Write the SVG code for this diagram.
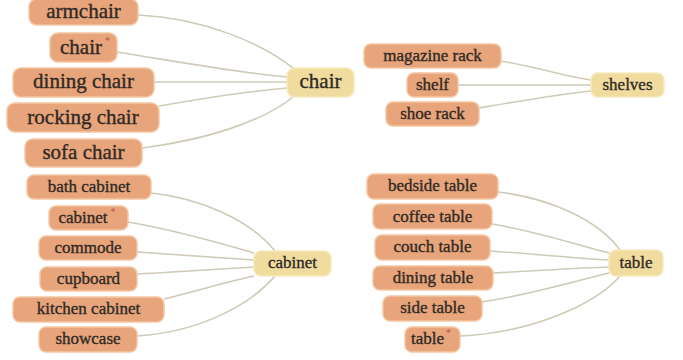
<svg xmlns="http://www.w3.org/2000/svg" width="683" height="360" viewBox="0 0 683 360">
<style>
.item rect{fill:#E8A47A;stroke:#F4C6A4;stroke-width:1.5}
.cat rect{fill:#F0DC9E;stroke:#F7E9BE;stroke-width:1.5}
text{font-family:"Liberation Serif","Times New Roman",serif;fill:#2f2a25;stroke:#2f2a25;stroke-width:0.35;text-anchor:middle}
.big text{font-size:21px}
.small text{font-size:17px}
.sup{font-size:10px;fill:#b5544a;stroke:none}
#edges path{fill:none;stroke:#CFCAB6;stroke-width:1.6}
</style>
<rect width="683" height="360" fill="#ffffff"/>
<g id="edges">
<path d="M138,15 C205,18 262,44 293,68"/>
<path d="M117,52 C180,62 240,73 287,77"/>
<path d="M154,82 L287,82"/>
<path d="M159,106 C205,98 250,91 287,88"/>
<path d="M142,148 C205,140 262,122 293,97"/>
<path d="M501,61 C540,68 565,76 591,80"/>
<path d="M458,85 L591,85"/>
<path d="M479,108 C520,101 560,94 591,91"/>
<path d="M151,193 C200,198 250,220 275,251"/>
<path d="M128,222 C175,230 220,243 254,253"/>
<path d="M137,252 C180,255 220,258 254,260"/>
<path d="M137,274 C180,272 220,269 254,267"/>
<path d="M164,299 C200,290 230,281 254,276"/>
<path d="M137,336 C200,332 250,305 275,276"/>
<path d="M498,192 C550,198 598,220 620,250"/>
<path d="M492,224 C540,232 580,246 609,253"/>
<path d="M490,251 C535,254 575,258 609,260"/>
<path d="M493,273 C535,271 575,268 609,267"/>
<path d="M482,302 C530,295 575,281 609,273"/>
<path d="M460,336 C530,333 595,305 620,276"/>
</g>
<g class="big">
<g id="n-armchair" class="item"><rect x="29" y="-1" width="109" height="26" rx="8"/><text x="83.5" y="18">armchair</text></g>
<g id="n-chair-star" class="item"><rect x="50" y="33" width="67" height="29" rx="8"/><text x="85" y="54">chair<tspan class="sup" dx="3" dy="-10">*</tspan></text></g>
<g id="n-dining-chair" class="item"><rect x="13" y="68" width="141" height="29" rx="8"/><text x="83.5" y="88">dining chair</text></g>
<g id="n-rocking-chair" class="item"><rect x="7" y="103" width="152" height="29" rx="8"/><text x="83" y="124">rocking chair</text></g>
<g id="n-sofa-chair" class="item"><rect x="25" y="139" width="117" height="28" rx="8"/><text x="83.5" y="159">sofa chair</text></g>
<g id="c-chair" class="cat"><rect x="287" y="68" width="67" height="29" rx="8"/><text x="320.5" y="88">chair</text></g>
</g>
<g class="small">
<g id="n-magazine-rack" class="item"><rect x="364" y="44" width="137" height="24" rx="7"/><text x="432.5" y="61">magazine rack</text></g>
<g id="n-shelf" class="item"><rect x="407" y="73" width="51" height="24" rx="7"/><text x="432.5" y="90">shelf</text></g>
<g id="n-shoe-rack" class="item"><rect x="386" y="102" width="93" height="24" rx="7"/><text x="432.5" y="119">shoe rack</text></g>
<g id="c-shelves" class="cat"><rect x="591" y="73" width="73" height="24" rx="7"/><text x="627.5" y="90">shelves</text></g>

<g id="n-bath-cabinet" class="item"><rect x="27" y="175" width="124" height="24" rx="7"/><text x="89" y="192">bath cabinet</text></g>
<g id="n-cabinet-star" class="item"><rect x="49" y="206" width="79" height="24" rx="7"/><text x="87" y="223">cabinet<tspan class="sup" dx="3" dy="-8">*</tspan></text></g>
<g id="n-commode" class="item"><rect x="39" y="236" width="98" height="24" rx="7"/><text x="88" y="253">commode</text></g>
<g id="n-cupboard" class="item"><rect x="40" y="267" width="97" height="24" rx="7"/><text x="88.5" y="284">cupboard</text></g>
<g id="n-kitchen-cabinet" class="item"><rect x="13" y="297" width="151" height="25" rx="7"/><text x="88.5" y="314">kitchen cabinet</text></g>
<g id="n-showcase" class="item"><rect x="39" y="327" width="98" height="25" rx="7"/><text x="88" y="344">showcase</text></g>
<g id="c-cabinet" class="cat"><rect x="254" y="251" width="77" height="25" rx="7"/><text x="292.5" y="268">cabinet</text></g>

<g id="n-bedside-table" class="item"><rect x="367" y="174" width="131" height="25" rx="7"/><text x="432.5" y="191">bedside table</text></g>
<g id="n-coffee-table" class="item"><rect x="373" y="204" width="119" height="25" rx="7"/><text x="432.5" y="222">coffee table</text></g>
<g id="n-couch-table" class="item"><rect x="375" y="235" width="115" height="25" rx="7"/><text x="432.5" y="252">couch table</text></g>
<g id="n-dining-table" class="item"><rect x="373" y="266" width="120" height="24" rx="7"/><text x="433" y="283">dining table</text></g>
<g id="n-side-table" class="item"><rect x="383" y="296" width="99" height="25" rx="7"/><text x="432.5" y="313">side table</text></g>
<g id="n-table-star" class="item"><rect x="405" y="327" width="55" height="25" rx="7"/><text x="431" y="344">table<tspan class="sup" dx="2" dy="-8">*</tspan></text></g>
<g id="c-table" class="cat"><rect x="609" y="250" width="54" height="26" rx="7"/><text x="636" y="268">table</text></g>
</g>
</svg>
